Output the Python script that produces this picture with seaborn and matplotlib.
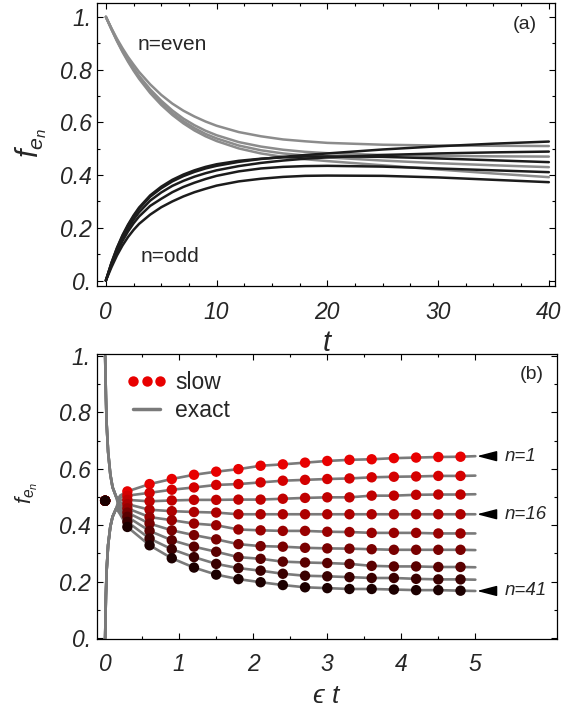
import matplotlib
matplotlib.use("Agg")
import matplotlib.pyplot as plt
from matplotlib.lines import Line2D
from matplotlib.ticker import MultipleLocator
import seaborn as sns

# ---- panel (a): f_{e_n} vs t ----
t_a = [0, 0.5, 1, 1.5, 2, 2.5, 3, 4, 5, 6, 7, 8, 9, 10, 12, 14, 16, 18, 20, 25, 30, 35, 40]

even_1 = [1.0, 0.957, 0.917, 0.881, 0.848, 0.819, 0.791, 0.744, 0.704, 0.671, 0.644, 0.622, 0.603, 0.587, 0.563, 0.547, 0.535, 0.528, 0.522, 0.515, 0.512, 0.511, 0.510]
even_2 = [1.0, 0.955, 0.912, 0.873, 0.838, 0.806, 0.776, 0.725, 0.682, 0.645, 0.614, 0.589, 0.568, 0.551, 0.525, 0.508, 0.496, 0.488, 0.483, 0.476, 0.473, 0.471, 0.470]
even_3 = [1.0, 0.954, 0.910, 0.870, 0.834, 0.801, 0.770, 0.717, 0.673, 0.635, 0.604, 0.578, 0.556, 0.539, 0.512, 0.494, 0.482, 0.474, 0.467, 0.455, 0.445, 0.437, 0.430]
even_4 = [1.0, 0.953, 0.908, 0.867, 0.830, 0.796, 0.765, 0.711, 0.666, 0.628, 0.596, 0.569, 0.547, 0.529, 0.501, 0.482, 0.469, 0.460, 0.453, 0.437, 0.421, 0.406, 0.392]

odd_1 = [0, 0.066, 0.122, 0.169, 0.209, 0.243, 0.272, 0.318, 0.350, 0.376, 0.396, 0.412, 0.425, 0.435, 0.450, 0.461, 0.469, 0.476, 0.482, 0.497, 0.509, 0.519, 0.527]
odd_2 = [0, 0.063, 0.116, 0.161, 0.199, 0.231, 0.259, 0.303, 0.334, 0.359, 0.378, 0.394, 0.407, 0.418, 0.434, 0.446, 0.455, 0.462, 0.467, 0.476, 0.482, 0.486, 0.489]
odd_3 = [0, 0.067, 0.124, 0.172, 0.212, 0.247, 0.277, 0.323, 0.356, 0.382, 0.402, 0.418, 0.431, 0.441, 0.454, 0.462, 0.467, 0.470, 0.471, 0.469, 0.463, 0.456, 0.449]
odd_4 = [0, 0.058, 0.108, 0.150, 0.186, 0.217, 0.243, 0.283, 0.310, 0.335, 0.355, 0.371, 0.385, 0.397, 0.414, 0.425, 0.431, 0.434, 0.435, 0.432, 0.425, 0.418, 0.411]
odd_5 = [0, 0.050, 0.095, 0.133, 0.165, 0.192, 0.215, 0.250, 0.278, 0.300, 0.319, 0.335, 0.348, 0.360, 0.376, 0.386, 0.393, 0.397, 0.398, 0.397, 0.391, 0.382, 0.373]

even_curves = [even_1, even_2, even_3, even_4]
odd_curves = [odd_1, odd_2, odd_3, odd_4, odd_5]

# ---- panel (b): f_{e_n} vs eps*t ----
n_values = [1, 6, 11, 16, 21, 26, 31, 36, 41]
labelled_n = [1, 16, 41]

eps_slow = [0, 0.3, 0.6, 0.9, 1.2, 1.5, 1.8, 2.1, 2.4, 2.7, 3.0, 3.3, 3.6, 3.9, 4.2, 4.5, 4.8]
slow_n1 = [0.487, 0.520, 0.546, 0.564, 0.579, 0.590, 0.599, 0.611, 0.616, 0.622, 0.628, 0.632, 0.634, 0.638, 0.640, 0.642, 0.643]
slow_n6 = [0.487, 0.505, 0.515, 0.526, 0.534, 0.543, 0.546, 0.552, 0.558, 0.561, 0.564, 0.566, 0.570, 0.572, 0.573, 0.575, 0.575]
slow_n11 = [0.487, 0.490, 0.485, 0.488, 0.490, 0.490, 0.491, 0.491, 0.494, 0.497, 0.499, 0.499, 0.505, 0.505, 0.508, 0.509, 0.509]
slow_n16 = [0.487, 0.475, 0.455, 0.450, 0.447, 0.445, 0.439, 0.439, 0.439, 0.439, 0.439, 0.439, 0.439, 0.439, 0.439, 0.439, 0.439]
slow_n21 = [0.487, 0.460, 0.429, 0.418, 0.406, 0.400, 0.385, 0.382, 0.380, 0.380, 0.377, 0.376, 0.373, 0.373, 0.373, 0.371, 0.371]
slow_n26 = [0.487, 0.445, 0.406, 0.382, 0.365, 0.350, 0.333, 0.326, 0.324, 0.320, 0.318, 0.317, 0.315, 0.313, 0.313, 0.313, 0.313]
slow_n31 = [0.487, 0.430, 0.380, 0.347, 0.324, 0.306, 0.287, 0.281, 0.271, 0.268, 0.266, 0.263, 0.256, 0.254, 0.254, 0.252, 0.252]
slow_n36 = [0.487, 0.412, 0.353, 0.315, 0.287, 0.263, 0.248, 0.239, 0.228, 0.221, 0.219, 0.216, 0.213, 0.213, 0.210, 0.208, 0.208]
slow_n41 = [0.487, 0.394, 0.329, 0.283, 0.250, 0.225, 0.209, 0.198, 0.188, 0.180, 0.177, 0.174, 0.174, 0.172, 0.170, 0.170, 0.168]
slow_rows = [slow_n1, slow_n6, slow_n11, slow_n16, slow_n21, slow_n26, slow_n31, slow_n36, slow_n41]

# exact curves: steep start near eps*t = 0, then through the slow points, ending at 5
eps_start = [0, 0.01, 0.02, 0.04, 0.07, 0.1, 0.15, 0.2]
start_from_zero = [0, 0.15, 0.24, 0.33, 0.395, 0.43, 0.46]
start_from_one = [1.0, 0.86, 0.76, 0.66, 0.58, 0.535, 0.50]
exact_at_02 = [0.505, 0.497, 0.489, 0.481, 0.473, 0.465, 0.457, 0.449, 0.440]
exact_at_5 = [0.645, 0.576, 0.510, 0.439, 0.371, 0.312, 0.251, 0.207, 0.167]

red_colors = sns.blend_palette(["#e80000", "#990000", "#1c0000"], len(n_values))

GRAY_A = "#8c8c8c"
BLACK_A = "#1c1c1c"
GRAY_B = "#7a7a7a"

sns.set_style("ticks")
plt.rcParams["font.family"] = ["Liberation Sans", "DejaVu Sans"]
plt.rcParams["mathtext.fontset"] = "custom"
plt.rcParams["mathtext.rm"] = "Liberation Sans"
plt.rcParams["mathtext.it"] = "Liberation Sans:italic"

fig = plt.figure(figsize=(5.74, 7.11), dpi=100)
ax1 = fig.add_axes([0.169, 0.598, 0.798, 0.398])
ax2 = fig.add_axes([0.169, 0.101, 0.801, 0.401])


def style_axes(ax, xpad, ypad):
    for sp in ax.spines.values():
        sp.set_linewidth(0.9)
        sp.set_color("black")
    ax.tick_params(which="both", direction="in", top=True, right=True, width=0.8, color="black")
    ax.tick_params(which="major", length=4)
    ax.tick_params(which="minor", length=2.5)
    ax.tick_params(axis="x", which="both", pad=xpad)
    ax.tick_params(axis="y", which="both", pad=ypad)


# panel (a)
for ys in even_curves:
    sns.lineplot(x=t_a, y=ys, ax=ax1, color=GRAY_A, lw=1.8)
for ys in odd_curves:
    sns.lineplot(x=t_a, y=ys, ax=ax1, color=BLACK_A, lw=1.8)

ax1.set_xlim(-0.8, 40.56)
ax1.set_ylim(-0.02, 1.053)
ax1.set_xticks([0, 10, 20, 30, 40])
ax1.set_xticklabels(["0", "10", "20", "30", "40"], fontsize=16.5, fontstyle="italic")
ax1.set_yticks([0, 0.2, 0.4, 0.6, 0.8, 1.0])
ax1.set_yticklabels(["0.", "0.2", "0.4", "0.6", "0.8", "1."], fontsize=16.5, fontstyle="italic")
ax1.xaxis.set_minor_locator(MultipleLocator(2.5))
ax1.yaxis.set_minor_locator(MultipleLocator(0.1))
style_axes(ax1, 11, 4)
ax1.set_xlabel("")
ax1.set_ylabel("")
ax1.text(2.9, 0.894, "n=even", fontsize=15, va="center", ha="left")
ax1.text(3.1, 0.092, "n=odd", fontsize=15, va="center", ha="left")
ax1.text(0.935, 0.925, "(a)", transform=ax1.transAxes, fontsize=14, ha="center", va="center")

# panel (b)
for i, row in enumerate(slow_rows):
    start = start_from_zero if i % 2 == 0 else start_from_one
    xs = eps_start + eps_slow[1:] + [5.0]
    ys = start + [exact_at_02[i]] + row[1:] + [exact_at_5[i]]
    sns.lineplot(x=xs, y=ys, ax=ax2, color=GRAY_B, lw=1.9, zorder=2)

for i, row in enumerate(slow_rows):
    sns.scatterplot(x=eps_slow, y=row, ax=ax2, color=red_colors[i], s=56,
                    edgecolor="none", linewidth=0, zorder=3)

for i, n in enumerate(n_values):
    if n in labelled_n:
        ax2.annotate(f"n={n}", xy=(5.02, exact_at_5[i]), xytext=(5.4, exact_at_5[i]),
                     fontsize=13.5, fontstyle="italic", ha="left", va="center",
                     arrowprops=dict(arrowstyle="-|>,head_length=1.0,head_width=0.26",
                                     mutation_scale=12, color="black", lw=1.1,
                                     shrinkA=4, shrinkB=0))

ax2.set_xlim(-0.11, 6.1)
ax2.set_ylim(-0.004, 1.007)
ax2.set_xticks([0, 1, 2, 3, 4, 5])
ax2.set_xticklabels(["0", "1", "2", "3", "4", "5"], fontsize=16.5, fontstyle="italic")
ax2.set_yticks([0, 0.2, 0.4, 0.6, 0.8, 1.0])
ax2.set_yticklabels(["0.", "0.2", "0.4", "0.6", "0.8", "1."], fontsize=16.5, fontstyle="italic")
ax2.set_xticks([0.5, 1.5, 2.5, 3.5, 4.5], minor=True)
ax2.yaxis.set_minor_locator(MultipleLocator(0.1))
style_axes(ax2, 10, 4.5)
ax2.set_xlabel("")
ax2.set_ylabel("")
ax2.text(0.946, 0.927, "(b)", transform=ax2.transAxes, fontsize=14, ha="center", va="center")

handles = [
    Line2D([], [], marker="o", ls="none", color="#e80000", markersize=7.5, markeredgewidth=0),
    Line2D([], [], color=GRAY_B, lw=2.5),
]
ax2.legend(handles, ["slow", "exact"], loc="upper left", bbox_to_anchor=(0.063, 0.94),
           frameon=False, fontsize=16.5, numpoints=3, handlelength=1.8, handletextpad=0.35,
           borderpad=0, borderaxespad=0, labelspacing=0.22)

# axis titles
fig.text(31 / 574, 1 - 143 / 711, r"$f_{e_n}$", fontsize=22, rotation=90, ha="center", va="center")
fig.text(27 / 574, 1 - 493 / 711, r"$f_{e_n}$", fontsize=16, rotation=90, ha="center", va="center")
fig.text(327 / 574, 1 - 343 / 711, "t", fontsize=21, fontstyle="italic", ha="center", va="center")
fig.text(326 / 574, 1 - 696 / 711, "\u03f5 t", fontsize=19, fontstyle="italic", ha="center", va="center")

fig.savefig("out.png", dpi=100)
